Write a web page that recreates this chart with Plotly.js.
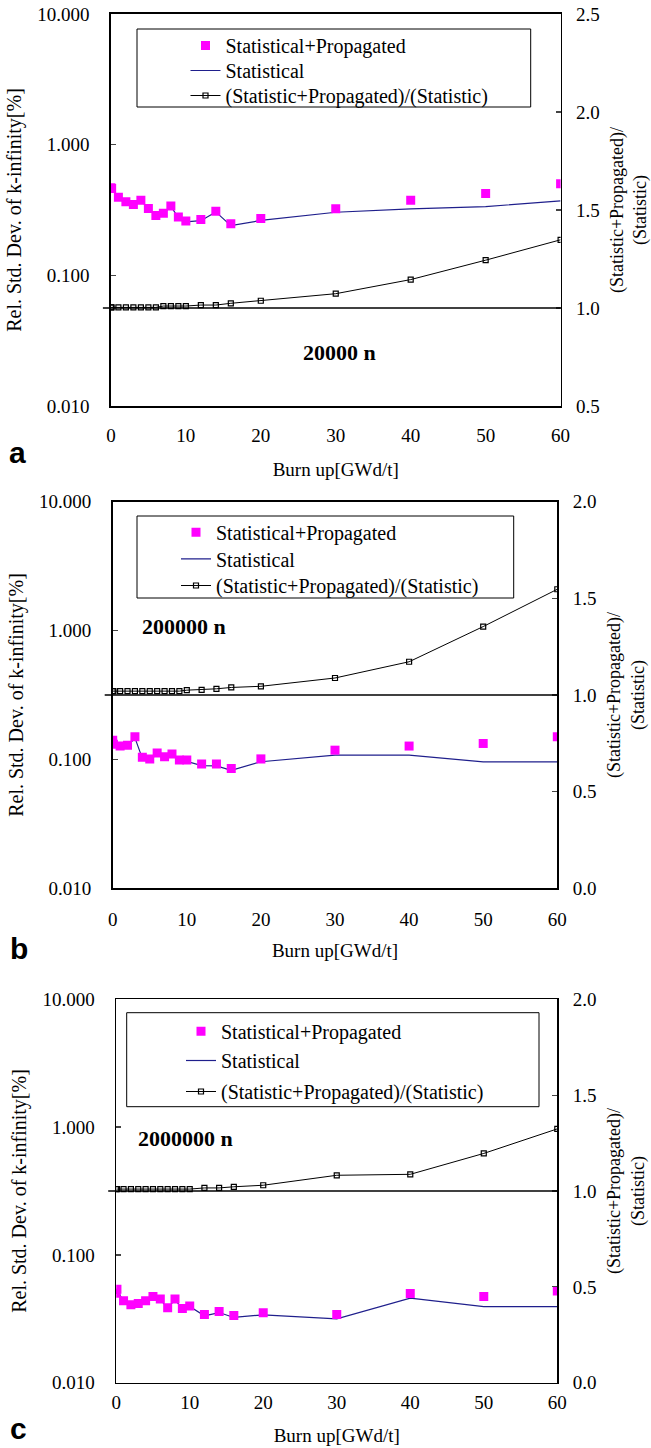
<!DOCTYPE html>
<html>
<head>
<meta charset="utf-8">
<script src="https://cdn.plot.ly/plotly-3.0.1.min.js"></script>
<style>
  html, body { margin: 0; padding: 0; background: #ffffff; }
  #chart { width: 651px; height: 1448px; }
</style>
</head>
<body>
<div id="chart"></div>
<script>
// ---------------- data ----------------
const burnup = [0, 0.1, 1, 2, 3, 4, 5, 6, 7, 8, 9, 10, 12, 14, 16, 20, 30, 40, 50, 60];

// panel a : 20000 n
const statPropA = [0.469, 0.462, 0.396, 0.365, 0.349, 0.376, 0.325, 0.287, 0.299, 0.340, 0.280, 0.260, 0.268, 0.310, 0.248, 0.272, 0.323, 0.376, 0.423, 0.503];
const statA     = [0.468, 0.461, 0.395, 0.364, 0.348, 0.375, 0.324, 0.286, 0.296, 0.337, 0.277, 0.257, 0.262, 0.306, 0.240, 0.263, 0.304, 0.322, 0.336, 0.371];
const ratioA    = [1.003, 1.003, 1.003, 1.003, 1.003, 1.003, 1.003, 1.003, 1.010, 1.010, 1.010, 1.010, 1.015, 1.015, 1.024, 1.037, 1.073, 1.145, 1.244, 1.348];

// panel b : 200000 n
const statPropB = [0.141, 0.131, 0.127, 0.129, 0.150, 0.104, 0.101, 0.112, 0.105, 0.110, 0.099, 0.099, 0.092, 0.092, 0.085, 0.101, 0.118, 0.127, 0.133, 0.150];
const statB     = [0.138, 0.128, 0.125, 0.126, 0.147, 0.102, 0.099, 0.110, 0.103, 0.108, 0.097, 0.0966, 0.0896, 0.0891, 0.0822, 0.0960, 0.108, 0.108, 0.0957, 0.0957];
const ratioB    = [1.020, 1.020, 1.020, 1.020, 1.020, 1.020, 1.020, 1.020, 1.020, 1.020, 1.020, 1.025, 1.027, 1.032, 1.039, 1.045, 1.088, 1.172, 1.354, 1.547];

// panel c : 2000000 n
const statPropC = [0.0501, 0.0539, 0.0438, 0.0408, 0.0416, 0.0438, 0.0472, 0.0452, 0.0386, 0.0452, 0.0380, 0.0399, 0.0341, 0.0360, 0.0335, 0.0352, 0.0341, 0.0498, 0.0472, 0.0522];
const statC     = [0.0496, 0.0534, 0.0434, 0.0404, 0.0412, 0.0434, 0.0467, 0.0448, 0.0382, 0.0448, 0.0376, 0.0395, 0.0334, 0.0354, 0.0324, 0.0340, 0.0316, 0.0459, 0.0394, 0.0394];
const ratioC    = [1.010, 1.010, 1.010, 1.010, 1.010, 1.010, 1.010, 1.010, 1.010, 1.010, 1.010, 1.010, 1.016, 1.016, 1.022, 1.030, 1.082, 1.087, 1.196, 1.324];

// series names / labels
const seriesNames = ['Statistical+Propagated', 'Statistical', '(Statistic+Propagated)/(Statistic)'];
const panelLetters = ['a', 'b', 'c'];
const neutronLabels = ['20000 n', '200000 n', '2000000 n'];
const xTitle = 'Burn up[GWd/t]';
const yTitle = 'Rel. Std. Dev. of k-infinity[%]';
const y2Title = '(Statistic+Propagated)/<br>(Statistic)';

// tick labels
const xTickVals = [0, 10, 20, 30, 40, 50, 60];
const leftTickVals = [0.01, 0.1, 1, 10];
const leftTickText = ['0.010', '0.100', '1.000', '10.000'];
const rightTickValsA = [0.5, 1.0, 1.5, 2.0, 2.5];
const rightTickTextA = ['0.5', '1.0', '1.5', '2.0', '2.5'];
const rightTickValsBC = [0.0, 0.5, 1.0, 1.5, 2.0];
const rightTickTextBC = ['0.0', '0.5', '1.0', '1.5', '2.0'];
const refLevel = 1.0;

// ---------------- geometry (pixels in the 651x1448 page) ----------------
const W = 651, H = 1448;
const SERIF = 'Liberation Serif, Times New Roman, serif';
const SANS = 'Liberation Sans, Arial, sans-serif';
const px = v => v / W;
const py = v => 1 - v / H;

const panels = [
  { sp: statPropA, st: statA, ra: ratioA, left: 110.9, right: 560.6, top: 14, bottom: 406,
    y2range: [0.5, 2.5], y2vals: rightTickValsA, y2text: rightTickTextA,
    xlabStand: 12, xtitStand: 17,
    legBox: [137, 29, 530.7, 107], legTextX: 225.5, legRows: [45, 70, 95],
    letter: [17.5, 453], nlabel: [339, 352] },
  { sp: statPropB, st: statB, ra: ratioB, left: 112.7, right: 557.3, top: 501.7, bottom: 888.3,
    y2range: [0, 2], y2vals: rightTickValsBC, y2text: rightTickTextBC,
    xlabStand: 13, xtitStand: 15,
    legBox: [137, 516, 513.7, 598], legTextX: 216, legRows: [531.7, 558.3, 585],
    letter: [18.5, 948], nlabel: [184, 626] },
  { sp: statPropC, st: statC, ra: ratioC, left: 116.2, right: 557.3, top: 999.3, bottom: 1382.7,
    y2range: [0, 2], y2vals: rightTickValsBC, y2text: rightTickTextBC,
    xlabStand: 2, xtitStand: 16,
    legBox: [126.7, 1012.7, 539, 1106.7], legTextX: 221, legRows: [1030.7, 1060, 1091],
    letter: [18, 1428], nlabel: [185, 1138] }
];

const data = [];
const layout = {
  width: W, height: H,
  margin: { l: 0, r: 0, t: 0, b: 0, pad: 0 },
  paper_bgcolor: '#ffffff', plot_bgcolor: 'rgba(0,0,0,0)',
  font: { family: SERIF, size: 19, color: '#000000' },
  showlegend: true,
  shapes: [], annotations: []
};

const legendName = k => 'legend' + (k === 1 ? '' : k);

panels.forEach((p, i) => {
  const n = i + 1;
  const xa = 'x' + (n === 1 ? '' : n);
  const ya = 'y' + (2 * n - 1 === 1 ? '' : (2 * n - 1));
  const ya2 = 'y' + (2 * n);
  // one legend per entry so that row spacing can follow the reference
  const legs = [legendName(3 * i + 1), legendName(3 * i + 2), legendName(3 * i + 3)];

  // Statistical (drawn first so the magenta squares sit on top)
  data.push({
    type: 'scatter', mode: 'lines', x: burnup, y: p.st, xaxis: xa, yaxis: ya,
    name: seriesNames[1], legend: legs[1],
    line: { color: '#1f1f8c', width: 1.2 }, hoverinfo: 'skip'
  });
  data.push({
    type: 'scatter', mode: 'markers', x: burnup, y: p.sp, xaxis: xa, yaxis: ya,
    name: seriesNames[0], legend: legs[0],
    marker: { symbol: 'square', size: 9, color: '#ff00ff' }, hoverinfo: 'skip'
  });
  data.push({
    type: 'scatter', mode: 'lines+markers', x: burnup, y: p.ra, xaxis: xa, yaxis: ya2,
    name: seriesNames[2], legend: legs[2],
    line: { color: '#000000', width: 1 },
    marker: { symbol: 'square-open', size: 5, color: '#000000', line: { width: 1.2, color: '#000000' } },
    hoverinfo: 'skip'
  });

  const xKey = 'xaxis' + (n === 1 ? '' : n);
  const yKey = 'yaxis' + (2 * n - 1 === 1 ? '' : (2 * n - 1));
  const y2Key = 'yaxis' + (2 * n);

  layout[xKey] = {
    domain: [px(p.left), px(p.right)], anchor: ya, range: [0, 60],
    tickvals: xTickVals, ticks: '', ticklabelstandoff: p.xlabStand,
    showline: true, linewidth: 1.6, linecolor: '#000000', mirror: true,
    showgrid: false, zeroline: false, fixedrange: true,
    tickfont: { family: SERIF, size: 19 },
    title: { text: xTitle, font: { family: SERIF, size: 19 }, standoff: p.xtitStand }
  };
  layout[yKey] = {
    domain: [py(p.bottom), py(p.top)], anchor: xa, type: 'log', range: [-2, 1],
    tickvals: leftTickVals, ticktext: leftTickText, ticks: 'inside', ticklen: 5, tickwidth: 1.3,
    ticklabelstandoff: 16,
    showline: true, linewidth: 1.6, linecolor: '#000000',
    showgrid: false, zeroline: false, fixedrange: true,
    tickfont: { family: SERIF, size: 19 },
    title: { text: yTitle, font: { family: SERIF, size: 20 }, standoff: 10 }
  };
  layout[y2Key] = {
    overlaying: ya, side: 'right', anchor: xa, range: p.y2range,
    tickvals: p.y2vals, ticktext: p.y2text, ticks: 'inside', ticklen: 5, tickwidth: 1.3,
    ticklabelstandoff: 10,
    showline: true, linewidth: 1.6, linecolor: '#000000',
    showgrid: false, zeroline: false, fixedrange: true,
    tickfont: { family: SERIF, size: 19 },
    title: { text: y2Title, font: { family: SERIF, size: 18 }, standoff: 12 }
  };

  legs.forEach((lg, k) => {
    layout[lg] = {
      x: px(p.legTextX - 40), y: py(p.legRows[k] - 19), xanchor: 'left', yanchor: 'top',
      bgcolor: 'rgba(0,0,0,0)', borderwidth: 0,
      font: { family: SERIF, size: 20, color: '#000000' }
    };
  });

  // legend frame
  layout.shapes.push({
    type: 'rect', xref: 'paper', yref: 'paper', layer: 'below',
    x0: px(p.legBox[0]), x1: px(p.legBox[2]), y0: py(p.legBox[3]), y1: py(p.legBox[1]),
    line: { color: '#000000', width: 1 }, fillcolor: '#ffffff'
  });
  // reference line at ratio = 1.0
  layout.shapes.push({
    type: 'line', xref: 'paper', yref: ya2,
    x0: px(p.left - 8), x1: px(p.right), y0: refLevel, y1: refLevel,
    line: { color: '#000000', width: 1.4 }
  });

  layout.annotations.push({
    xref: 'paper', yref: 'paper', x: px(p.letter[0]), y: py(p.letter[1]),
    xanchor: 'center', yanchor: 'middle', showarrow: false, text: '<b>' + panelLetters[i] + '</b>',
    font: { family: SANS, size: 30, color: '#000000' }
  });
  layout.annotations.push({
    xref: 'paper', yref: 'paper', x: px(p.nlabel[0]), y: py(p.nlabel[1]),
    xanchor: 'center', yanchor: 'middle', showarrow: false, text: '<b>' + neutronLabels[i] + '</b>',
    font: { family: SERIF, size: 22, color: '#000000' }
  });
});

Plotly.newPlot('chart', data, layout, { staticPlot: true, displayModeBar: false });
</script>
</body>
</html>
